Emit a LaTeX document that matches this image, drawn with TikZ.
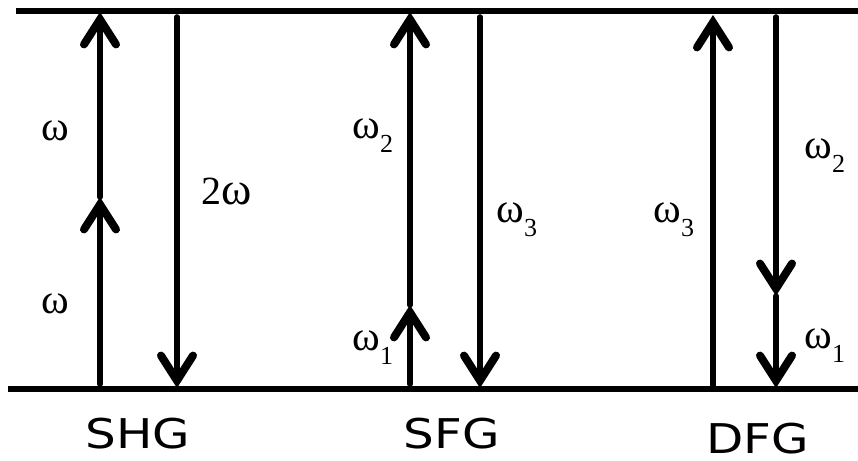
\documentclass[tikz,border=0pt]{standalone}
\usepackage{fontspec}
\setmainfont{Liberation Serif}
\newfontfamily\labfont{DejaVu Sans}
\usetikzlibrary{arrows.meta}
\newcommand{\omsub}[1]{ω\raisebox{-7pt}{\fontsize{13}{15}\selectfont #1}}
\begin{document}
\begin{tikzpicture}[x=0.5pt,y=-0.5pt,
  level/.style={line width=3pt},
  trans/.style={line width=2.8pt, line cap=round,
    -{Straight Barb[length=12.5pt,width=16pt,line width=4pt,line cap=round,line join=miter]}},
  freq/.style={font=\fontsize{21}{24}\selectfont, anchor=base west, inner sep=0pt},
  bigfreq/.style={font=\fontsize{20}{24}\selectfont, anchor=base west, inner sep=0pt},
  proc/.style={font=\labfont\fontsize{20.5}{24}\selectfont, inner sep=0pt, anchor=base}]
\useasboundingbox (0,0) rectangle (858,461);
% levels
\coordinate (tl) at (16,11);  \coordinate (tr) at (858,11);
\coordinate (bl) at (8,389);  \coordinate (br) at (858,389);
\draw[level] (tl) -- (tr);
\draw[level] (bl) -- (br);
% SHG
\coordinate (a1b) at (100,384); \coordinate (a1m) at (100,197); \coordinate (a1t) at (100,12);
\coordinate (a2t) at (177,17);  \coordinate (a2b) at (177,388);
\draw[trans] (a1b) -- (a1m);
\draw[trans] (a1m) -- (a1t);
\draw[trans] (a2t) -- (a2b);
% SFG
\coordinate (b1b) at (410,384); \coordinate (b1m) at (410,305); \coordinate (b1t) at (410,12);
\coordinate (b2t) at (480,17);  \coordinate (b2b) at (480,388);
\draw[trans] (b1b) -- (b1m);
\draw[trans] (b1m) -- (b1t);
\draw[trans] (b2t) -- (b2b);
% DFG
\coordinate (c1b) at (713,388); \coordinate (c1t) at (713,15);
\coordinate (c2t) at (776,17);  \coordinate (c2m) at (776,296); \coordinate (c2b) at (776,388);
\draw[trans] (c1b) -- (c1t);
\draw[trans] (c2t) -- (c2m);
\draw[trans] (c2m) -- (c2b);
% frequency labels
\node[freq] (w1) at (41,140) {ω};
\node[freq] (w2) at (41,313) {ω};
\node[bigfreq] (w2w) at (201,204) {2{\fontsize{23}{26}\selectfont ω}};
\node[freq] (sf2) at (352,138) {\omsub{2}};
\node[freq] (sf3) at (496,222) {\omsub{3}};
\node[freq] (sf1) at (352,350) {\omsub{1}};
\node[freq] (df3) at (653,222) {\omsub{3}};
\node[freq] (df2) at (804,158) {\omsub{2}};
\node[freq] (df1) at (804,348) {\omsub{1}};
% process labels
\node[proc] (shg) at (138,448) {\scalebox{1.18}[1]{SHG}};
\node[proc] (sfg) at (452,448) {\scalebox{1.18}[1]{SFG}};
\node[proc] (dfg) at (758,453) {\scalebox{1.18}[1]{DFG}};
\end{tikzpicture}
\end{document}
